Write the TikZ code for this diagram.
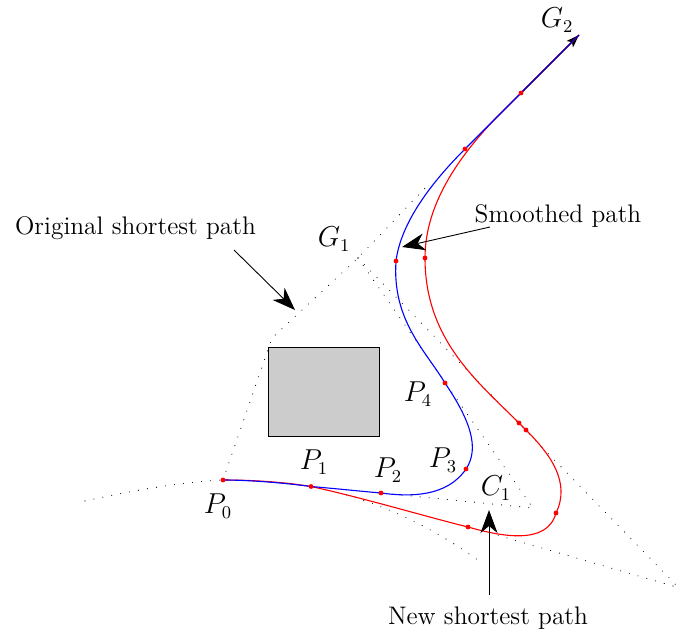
\documentclass[tikz,border=0pt]{standalone}
\usetikzlibrary{arrows.meta,backgrounds}
\tikzset{
  reddot/.style={circle,fill=red,inner sep=0pt,minimum size=2.4pt},
  dotline/.style={line width=0.55pt,line cap=round,dash pattern=on 0pt off 4.55pt,black},
  bluepath/.style={blue,line width=0.55pt},
  redpath/.style={red,line width=0.55pt},
  callout/.style={black,line width=0.45pt,-{Stealth[length=11.5pt,width=8.5pt,inset=3.5pt]}},
  lab/.style={inner sep=0pt,font=\fontsize{12.7}{15}\selectfont},
  mlab/.style={inner sep=0pt,font=\fontsize{13.4}{16}\selectfont},
  obstacle/.style={draw=black,fill=black!20,line width=0.5pt}
}
\begin{document}
\begin{tikzpicture}[x=0.5pt,y=-0.5pt]
\useasboundingbox (0,0) rectangle (679,632);
% way-points
\node[reddot] (p0) at (223,480) {};
\node[reddot] (p1) at (311,486.5) {};
\node[reddot] (p2) at (381,493) {};
\node[reddot] (p3) at (466,469) {};
\node[reddot] (p4) at (445,383) {};
\node[reddot] (b5) at (396,261) {};
\node[reddot] (j1) at (465,149) {};
\node[reddot] (j2) at (521,93) {};
\node[reddot] (r1) at (468,527) {};
\node[reddot] (r2) at (556,513) {};
\node[reddot] (r3) at (526,430) {};
\node[reddot] (r4) at (519,423) {};
\node[reddot] (r5) at (425,258) {};
\coordinate (g1) at (358,258);
\coordinate (g2) at (579,35);
\coordinate (m) at (494,120);
\coordinate (a) at (272,338);
\coordinate (b) at (430,183);
\coordinate (e0) at (85,501);
\coordinate (e1) at (482,563);
\coordinate (e2) at (533,508);
\coordinate (e3) at (676,585);
\coordinate (e4) at (673,586);
\coordinate (e5) at (490,533);
\begin{scope}[on background layer]
% construction lines
\draw[dotline] (p0.center) -- (a) -- (g1) -- (b);
\draw[dotline] (g1) -- (e2) -- (p2.center);
\draw[dotline] (g1) -- (e3);
\draw[dotline] (e4) -- (e5);
\draw[dotline] (e0) .. controls (130,491) and (180,482) .. (p0.center);
\draw[dotline] (p1.center) .. controls (375,499) and (430,525) .. (e1);
% obstacle
\node[obstacle,minimum width=55.5pt,minimum height=44.5pt,inner sep=0pt] (box) at (323.5,391.5) {};
% goal arrow
\draw[black,line width=0.55pt,-{Stealth[length=6.5pt,width=4.5pt,inset=1.5pt]}] (j2.center) -- (g2);
% red path
\draw[redpath] (p0.center) .. controls (260,480) and (290,483) .. (p1.center)
  .. controls (360,497) and (420,515) .. (r1.center)
  .. controls (500,536) and (547,546) .. (r2.center)
  .. controls (571,482) and (550,454) .. (r3.center)
  -- (r4.center)
  .. controls (478,382) and (425,340) .. (r5.center)
  .. controls (425,205) and (458,158) .. (m);
\draw[redpath] (m) -- (g2);
% blue path
\draw[bluepath] (p0.center) .. controls (250,480) and (285,483) .. (p1.center)
  .. controls (335,488.5) and (358,491) .. (p2.center)
  .. controls (410,497) and (447,497) .. (p3.center)
  .. controls (480,448) and (470,420) .. (p4.center)
  .. controls (425,350) and (392,320) .. (b5.center)
  .. controls (401,222) and (432,182) .. (j1.center)
  -- (j2.center);
\draw[blue!85!black,line width=0.55pt] (j2.center) -- (g2);
\end{scope}
% labels
\node[lab] (lorig) at (135.5,228) {Original shortest path};
\node[lab] (lsmooth) at (558,216) {Smoothed path};
\node[lab] (lnew) at (488,618) {New shortest path};
\node[mlab] (tg1) at (334,239) {$G_1$};
\node[mlab] (tg2) at (557,20) {$G_2$};
\node[mlab] (tc1) at (496,488) {$C_1$};
\node[mlab] (tp0) at (218,506) {$P_0$};
\node[mlab] (tp1) at (314,462) {$P_1$};
\node[mlab] (tp2) at (388,470) {$P_2$};
\node[mlab] (tp3) at (443,460) {$P_3$};
\node[mlab] (tp4) at (418,394) {$P_4$};
% callouts
\coordinate (c1s) at (234,250);
\coordinate (c1e) at (295,310);
\coordinate (c2s) at (490,227);
\coordinate (c2e) at (402,247);
\coordinate (c3s) at (489,595);
\coordinate (c3e) at (489,510);
\draw[callout] (c1s) -- (c1e);
\draw[callout] (c2s) -- (c2e);
\draw[callout] (c3s) -- (c3e);
\end{tikzpicture}
\end{document}
